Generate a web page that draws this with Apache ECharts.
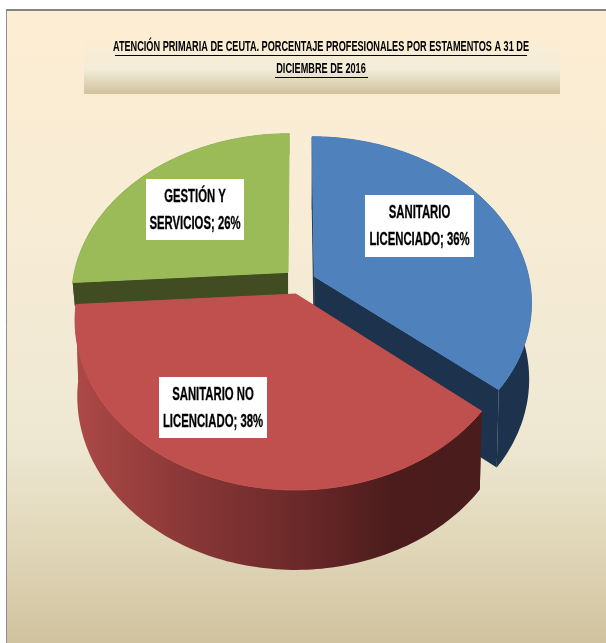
<!DOCTYPE html>
<html>
<head>
<meta charset="utf-8">
<style>html,body{margin:0;padding:0;background:#fff}#chart{width:606px;height:643px}</style>
<script src="https://cdn.jsdelivr.net/npm/echarts@6/dist/echarts.min.js"></script>
</head>
<body>
<div id="chart"></div>
<script>
// Staff share by professional group, in percent
const categories = ['SANITARIO LICENCIADO', 'SANITARIO NO LICENCIADO', 'GESTIÓN Y SERVICIOS'];
const values = [36, 38, 26];
const labelLines = [['SANITARIO', 'LICENCIADO; 36%'], ['SANITARIO NO', 'LICENCIADO; 38%'], ['GESTIÓN Y', 'SERVICIOS; 26%']];
const titleLines = ['ATENCIÓN PRIMARIA DE CEUTA. PORCENTAJE PROFESIONALES POR ESTAMENTOS A 31 DE', 'DICIEMBRE DE 2016'];

// Slices are painted back to front
const paintOrder = [2, 0, 1];

// Disc projection: a unit circle seen in perspective, with a lower rim plane
const cam = { cx: 297, cy: 294, rx: 218, ry: 166, p: 0.153, lowerX: 0.99, lowerY: 1.02 };
const explode = [[0.08, -0.108], [-0.006, 0], [-0.042, -0.133]];
const wallDepth = [76, 76, 24];
const topColor = ['#4F81BD', '#C0504D', '#9BBB59'];
const wallColor = ['#1D324D', null, '#424C22'];
const labelBox = [[365, 195, 109, 62], [159, 377, 108, 61], [146, 179, 98, 61]];
const font = 'bold 18px "Liberation Sans", sans-serif';
const titleFont = 'bold 15px "Liberation Sans", sans-serif';
const labelSqueeze = 0.63;
const titleSqueeze = 0.61;

const redWall = {
  type: 'linear', global: true, x: 75, y: 0, x2: 480, y2: 0,
  colorStops: [
    { offset: 0, color: '#AC4946' }, { offset: 0.3, color: '#873636' },
    { offset: 0.55, color: '#6C2929' }, { offset: 0.78, color: '#4C1C1C' }, { offset: 1, color: '#4A1C1C' }
  ]
};

const total = values.reduce((a, b) => a + b, 0);
const startShare = values.map((_, i) => values.slice(0, i).reduce((a, b) => a + b, 0) / total);

// Screen position of a disc point; drop > 0 selects the lower rim plane
function project(u, v, drop) {
  const s = 1 / (1 - cam.p * v);
  const x = cam.rx * u * s, y = cam.ry * v * s;
  return drop
    ? [cam.cx + cam.lowerX * x, cam.cy + drop + cam.lowerY * y]
    : [cam.cx + x, cam.cy + y];
}

function rimPoint(share, i, drop) {
  const a = share * 2 * Math.PI;
  return project(Math.sin(a) + explode[i][0], -Math.cos(a) + explode[i][1], drop);
}

function renderSlice(params, api) {
  const i = api.value(1);
  const from = startShare[i], to = from + api.value(0) / total;
  const top = [], bottom = [];
  const steps = 120;
  for (let k = 0; k <= steps; k++) {
    const t = from + (to - from) * k / steps;
    top.push(rimPoint(t, i, 0));
    bottom.push(rimPoint(t, i, wallDepth[i]));
  }
  const apexTop = project(explode[i][0], explode[i][1], 0);
  const apexLow = project(explode[i][0], explode[i][1], wallDepth[i]);
  const wallFill = wallColor[i] || redWall;
  const poly = (points, fill) => ({ type: 'polygon', shape: { points }, style: { fill } });
  const children = [
    // side walls first, then the outer rim, with the top face over them
    poly([apexTop, top[0], bottom[0], apexLow], wallFill)
  ];
  // a cut ending at twelve o'clock on the far side is seen edge-on
  if (to < 0.999) children.push(poly([apexTop, top[steps], bottom[steps], apexLow], wallFill));
  children.push(poly(top.concat(bottom.slice().reverse()), wallFill));
  const face = poly([apexTop].concat(top), topColor[i]);
  face.style.stroke = topColor[i];
  face.style.lineWidth = 1;
  children.push(face);

  const [bx, by, bw, bh] = labelBox[i];
  children.push({ type: 'rect', shape: { x: bx, y: by, width: bw, height: bh }, style: { fill: '#fff' }, z2: 10 });
  labelLines[i].forEach((line, n) => {
    children.push({
      type: 'text', z2: 11, x: bx + bw / 2, y: by + 18 + n * 27.5, scaleX: labelSqueeze,
      style: { text: line, x: 0, y: 0, fill: '#000', stroke: '#000', lineWidth: 0.3, font, align: 'center', verticalAlign: 'middle' }
    });
  });
  return { type: 'group', children };
}

const pageBackground = {
  type: 'linear', x: 0, y: 0, x2: 0, y2: 1,
  colorStops: [
    { offset: 0, color: '#FDEED3' }, { offset: 0.3, color: '#F8ECD5' },
    { offset: 0.68, color: '#EEE8D3' }, { offset: 0.85, color: '#E0D6B8' }, { offset: 1, color: '#D0C29E' }
  ]
};
const bandBackground = {
  type: 'linear', x: 0, y: 0, x2: 0, y2: 1,
  colorStops: [
    { offset: 0, color: '#FDEED3' }, { offset: 0.6, color: '#F2ECD8' }, { offset: 1, color: '#D0C29E' }
  ]
};

const titleText = (text, y) => ({
  type: 'text', x: 321, y, scaleX: titleSqueeze,
  style: { text, x: 0, y: 0, fill: '#000', font: titleFont, align: 'center', verticalAlign: 'middle' }
});

const graphic = [
  { type: 'rect', z: -2, shape: { x: 6, y: 10, width: 600, height: 633 }, style: { fill: pageBackground } },
  { type: 'line', z: -1, shape: { x1: 6.5, y1: 10, x2: 6.5, y2: 643 }, style: { stroke: '#8E8E8E', lineWidth: 1 } },
  { type: 'line', z: -1, shape: { x1: 6, y1: 10, x2: 606, y2: 10 }, style: { stroke: '#828282', lineWidth: 2 } },
  { type: 'rect', z: -1, shape: { x: 84, y: 33, width: 476, height: 61 }, style: { fill: bandBackground } },
  titleText(titleLines[0], 47),
  titleText(titleLines[1], 69),
  { type: 'line', shape: { x1: 115, y1: 55.5, x2: 527, y2: 55.5 }, style: { stroke: '#000', lineWidth: 1 } },
  { type: 'line', shape: { x1: 275, y1: 77.5, x2: 368, y2: 77.5 }, style: { stroke: '#000', lineWidth: 1 } }
];

const chart = echarts.init(document.getElementById('chart'), null, { renderer: 'canvas' });
chart.setOption({
  animation: false,
  backgroundColor: '#fff',
  graphic,
  series: [{
    type: 'custom',
    coordinateSystem: 'none',
    renderItem: renderSlice,
    silent: true,
    data: paintOrder.map(i => ({ name: categories[i], value: [values[i], i] }))
  }]
});
</script>
</body>
</html>
